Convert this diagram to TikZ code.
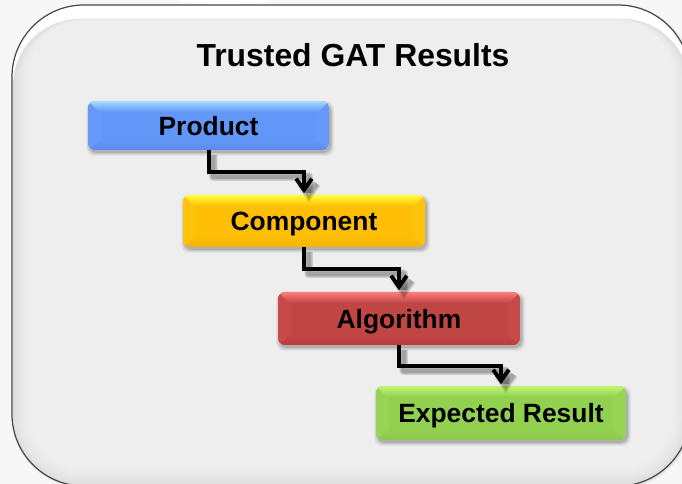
\documentclass[tikz,border=0pt]{standalone}
\usepackage{fontspec}
\setmainfont{Liberation Sans}
\usetikzlibrary{arrows.meta,calc}
\definecolor{panelgray}{RGB}{238,238,238}
\definecolor{rimgray}{RGB}{222,222,222}
\definecolor{bgwhite}{RGB}{247,247,247}
\definecolor{blueA}{RGB}{165,220,255}\definecolor{blueB}{RGB}{98,150,247}\definecolor{blueC}{RGB}{90,140,236}\definecolor{blueD}{RGB}{102,154,249}
\definecolor{yelA}{RGB}{255,255,60}\definecolor{yelB}{RGB}{253,190,5}\definecolor{yelC}{RGB}{246,178,0}\definecolor{yelD}{RGB}{254,195,10}
\definecolor{redA}{RGB}{252,125,125}\definecolor{redB}{RGB}{192,70,68}\definecolor{redC}{RGB}{184,60,58}\definecolor{redD}{RGB}{197,74,72}
\definecolor{grnA}{RGB}{195,245,115}\definecolor{grnB}{RGB}{146,208,80}\definecolor{grnC}{RGB}{138,200,74}\definecolor{grnD}{RGB}{150,212,86}
\pgfdeclarearrow{
  name=Chev,
  cache=false,
  setup code={
    \pgfarrowssettipend{0pt}
    \pgfarrowssetbackend{-12pt}
    \pgfarrowssetlineend{-4pt}
    \pgfarrowssetvisualbackend{-4pt}
    \pgfarrowshullpoint{0pt}{0pt}
  },
  drawing code={
    \pgfsetbuttcap\pgfsetmiterjoin\pgfsetdash{}{0pt}
    \pgfpathmoveto{\pgfpoint{-11pt}{5.9pt}}
    \pgfpathlineto{\pgfpoint{-2.7pt}{0pt}}
    \pgfpathlineto{\pgfpoint{-11pt}{-5.9pt}}
    \pgfusepathqstroke
  }
}
\tikzset{x=0.75pt,y=-0.75pt,
  stepbox/.style={inner sep=0pt,outer sep=0pt,font=\bfseries\fontsize{19.8}{22}\selectfont,text=black},
  titletext/.style={font=\bfseries\fontsize{23.9}{26}\selectfont,text=black},
  link/.style={draw=black,line width=3pt,line join=miter,-Chev,shorten >=1.2pt},
  linkshade/.style={draw=black,line join=round,opacity=0.07,-Chev,shorten >=1.2pt,transform canvas={xshift=3.6pt,yshift=-3.6pt}}}
% #1 name, #2 x0, #3 y0, #4 x1, #5 y1, #6 colour stem, #7 text, #8 baseline drop
\newcommand{\stepcard}[8]{%
  \foreach \g/\o in {3/0.04,2/0.06,1/0.08,0/0.10}{
    \fill[black,opacity=\o,rounded corners=6pt] ({#2+1-\g},{#3+3-\g}) rectangle ({#4+2+\g},{#5+3+\g});
  }
  \begin{scope}
    \clip[rounded corners=5.5pt] (#2,#3) rectangle (#4,#5);
    \fill[#6B] (#2,#3) rectangle (#4,#5);
    \fill[#6D] (#2,#3) -- ({#2+13},{#3+12}) -- ({#2+13},{#5-10}) -- (#2,#5) -- cycle;
    \fill[#6D] (#4,#3) -- ({#4-13},{#3+12}) -- ({#4-13},{#5-10}) -- (#4,#5) -- cycle;
    \shade[top color=#6B,bottom color=#6C] (#2,#5) -- (#4,#5) -- ({#4-13},{#5-10}) -- ({#2+13},{#5-10}) -- cycle;
    \shade[top color=#6A,bottom color=#6B] (#2,#3) -- (#4,#3) -- ({#4-11},{#3+11}) -- ({#2+11},{#3+11}) -- cycle;
  \end{scope}
  \node[stepbox,minimum width={(#4-#2)*0.75pt},minimum height={(#5-#3)*0.75pt}] (#1) at ({(#2+#4)/2},{(#3+#5)/2}) {\raisebox{-#8pt}[0pt][0pt]{#7}};
}
\begin{document}
\begin{tikzpicture}
\useasboundingbox (0,0) rectangle (682,484);
\fill[bgwhite] (0,0) rectangle (682,484);
\begin{scope}
\clip (0,0) rectangle (682,484);
\fill[white] (148,-20) .. controls (152,14) and (295,14) .. (305,-20) -- cycle;
% panel shadow
\foreach \g/\o in {3/0.02,2/0.03,1/0.04}{
  \draw[black,opacity=\o,line width=\g pt,rounded corners=54pt] (13,6) rectangle (691,487);
}
% panel
\fill[white,rounded corners=54pt] (12,5) rectangle (690,486);
\foreach \i/\c in {0/100,1/82,2/66,3/52,4/40,5/29,6/20,7/12,8/5,9/0}{
  \fill[rimgray!\c!panelgray,rounded corners={(50-\i)*1pt}] ({13+\i*1.8},{19+\i*0.2}) rectangle ({689-\i*1.8},{485-\i*1.8});
}
\draw[black!72,line width=0.9pt,rounded corners=54pt] (12,5) rectangle (690,486);
\end{scope}
% cards
\stepcard{product}{88}{101}{329}{150}{blue}{Product}{7.2}
\stepcard{component}{183}{195}{425}{247}{yel}{Component}{7.5}
\stepcard{algorithm}{278}{292}{520}{345}{red}{Algorithm}{7.7}
\stepcard{expected}{376}{386}{626}{440}{grn}{Expected Result}{7.5}
\node[titletext] (title) at (353,55) {Trusted GAT Results};
% connector shadows
\foreach \a/\b/\d in {product/component/22,component/algorithm/22,algorithm/expected/21}{
  \foreach \w in {7,6,5,4,3}{
    \draw[linkshade,line width=\w pt] (\a.south) -- ++(0,\d) -| (\b.north);
  }
}
% connectors
\draw[link] (product.south) -- ++(0,22) -| (component.north);
\draw[link] (component.south) -- ++(0,22) -| (algorithm.north);
\draw[link] (algorithm.south) -- ++(0,21) -| (expected.north);
\end{tikzpicture}
\end{document}
